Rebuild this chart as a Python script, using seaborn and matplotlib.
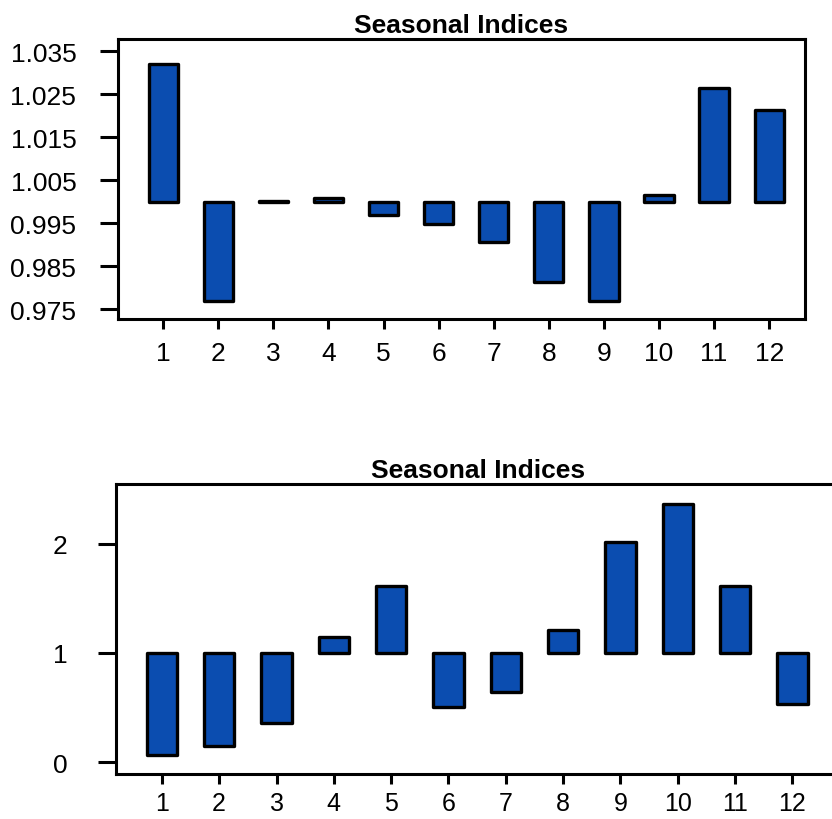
import numpy as np
import seaborn as sns
import matplotlib.pyplot as plt

# seasonal indices
months = np.arange(1, 13)
top_idx = [1.032, 0.977, 1.0001, 1.0008, 0.9969, 0.9948, 0.9906, 0.9813, 0.9769, 1.0015, 1.0264, 1.0213]
bottom_idx = [0.06, 0.15, 0.36, 1.15, 1.61, 0.50, 0.64, 1.21, 2.02, 2.37, 1.61, 0.53]
base = 1.0

top_yticks = [0.975, 0.985, 0.995, 1.005, 1.015, 1.025, 1.035]
top_ylabels = ["0.975", "0.985", "0.995", "1.005", "1.015", "1.025", "1.035"]
bottom_yticks = [0, 1, 2]

sns.set_theme(style="white")
plt.rcParams['font.family'] = ['Liberation Sans', 'DejaVu Sans']
plt.rcParams['text.color'] = 'black'
plt.rcParams['xtick.color'] = 'black'
plt.rcParams['ytick.color'] = 'black'

fig = plt.figure(figsize=(8.32, 8.20), dpi=100)
ax1 = fig.add_axes([118/832, 500/820, 687/832, 280/820])
ax2 = fig.add_axes([116/832, 45/820, 724/832, 290/820])

bar_color = "#0b4db0"


def draw_panel(ax, vals, ylim, xlim, yticks, ylabels, ypad, xsize, xpad):
    vals = np.array(vals)
    bars = ax.bar(months, vals - base, bottom=base, width=0.53,
                  color=bar_color, edgecolor="black", linewidth=2.4)
    for b in bars:
        b.set_joinstyle("round")
    ax.set_xlim(*xlim)
    ax.set_ylim(*ylim)
    ax.set_xticks(months)
    ax.set_xticklabels([str(m) for m in months])
    ax.set_yticks(yticks)
    ax.set_yticklabels(ylabels)
    for s in ax.spines.values():
        s.set_visible(True)
        s.set_color("black")
        s.set_linewidth(2.2)
    ax.tick_params(axis="y", direction="out", length=13, width=2.2, color="black",
                   pad=ypad, labelsize=19, left=True)
    ax.tick_params(axis="x", direction="out", length=7, width=2.2, color="black",
                   pad=xpad, labelsize=xsize, bottom=True)
    ax.set_title("Seasonal Indices", fontsize=19, fontweight="bold", pad=5)
    ax.grid(False)


draw_panel(ax1, top_idx, (0.9727, 1.0378), (0.18, 12.65), top_yticks, top_ylabels, 17, 19, 9)
draw_panel(ax2, bottom_idx, (-0.11, 2.55), (0.2, 12.83), bottom_yticks,
           [str(t) for t in bottom_yticks], 22, 18, 5)

fig.savefig("out.png", dpi=100)
